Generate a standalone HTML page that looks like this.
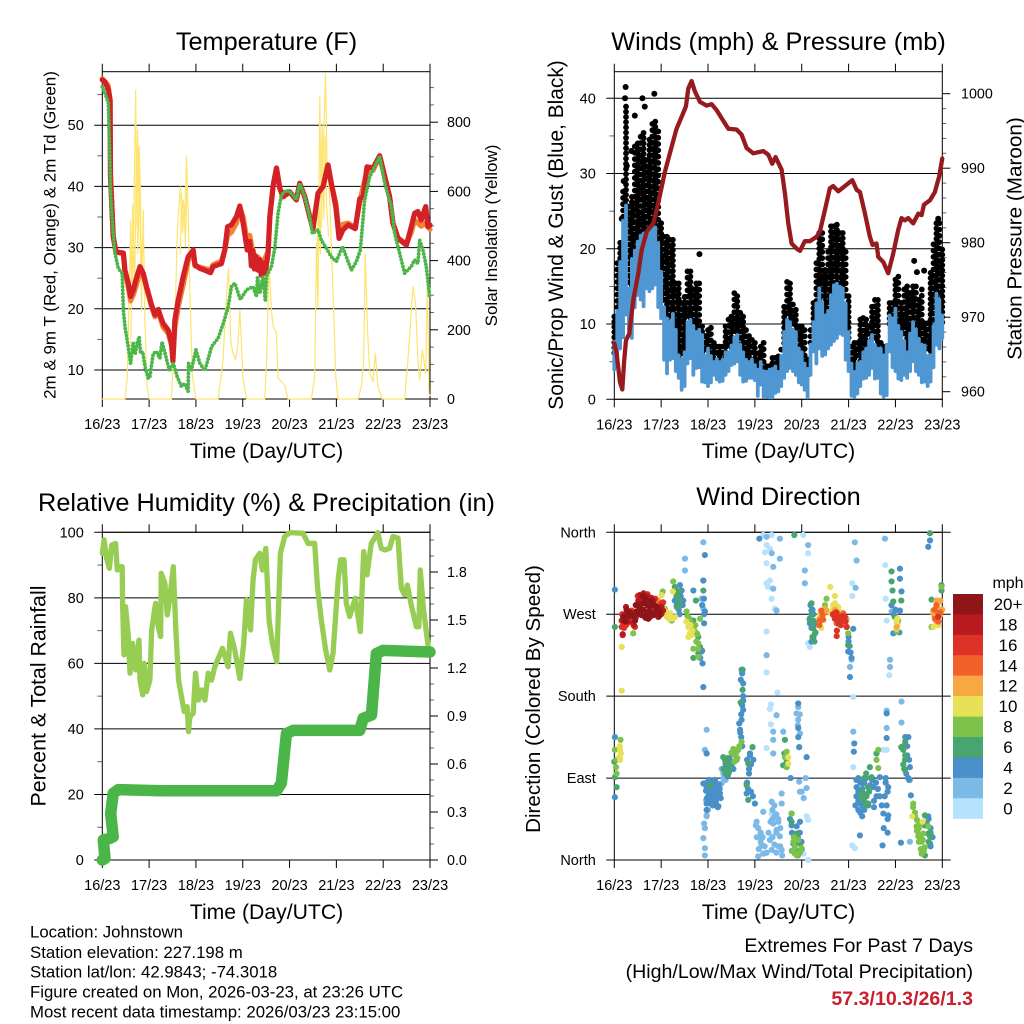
<!DOCTYPE html>
<html lang="en">
<head>
<meta charset="utf-8">
<title>Johnstown station summary</title>
<style>
html,body{margin:0;padding:0;background:#fff}
svg{display:block}
text{font-family:"Liberation Sans",sans-serif;fill:#000}
.title{font-size:25.3px;text-anchor:middle}
.xlabel{font-size:21.2px;text-anchor:middle}
.foot{font-size:16.8px}
</style>
</head>
<body>
<svg id="chart" xmlns="http://www.w3.org/2000/svg" width="1024" height="1024" viewBox="0 0 1024 1024">
<rect width="1024" height="1024" fill="#fff"/>
<text class="title" x="266.5" y="50">Temperature (F)</text>
<text class="title" x="778.5" y="50">Winds (mph) &amp; Pressure (mb)</text>
<text class="title" x="266.5" y="511">Relative Humidity (%) &amp; Precipitation (in)</text>
<text class="title" x="778.5" y="505">Wind Direction</text>
<text class="xlabel" x="266.5" y="458">Time (Day/UTC)</text>
<text class="xlabel" x="778.5" y="458">Time (Day/UTC)</text>
<text class="xlabel" x="266.5" y="919">Time (Day/UTC)</text>
<text class="xlabel" x="778.5" y="919">Time (Day/UTC)</text>
<text transform="translate(55.5,235) rotate(-90)" text-anchor="middle" font-size="17">2m &amp; 9m T (Red, Orange) &amp; 2m Td (Green)</text>
<text transform="translate(497,235.5) rotate(-90)" text-anchor="middle" font-size="17">Solar Insolation (Yellow)</text>
<text transform="translate(563,235) rotate(-90)" text-anchor="middle" font-size="20.9">Sonic/Prop Wind &amp; Gust (Blue, Black)</text>
<text transform="translate(1021.5,238.5) rotate(-90)" text-anchor="middle" font-size="20.7">Station Pressure (Maroon)</text>
<text transform="translate(45.5,696) rotate(-90)" text-anchor="middle" font-size="21.3">Percent &amp; Total Rainfall</text>
<text transform="translate(540,699) rotate(-90)" text-anchor="middle" font-size="20.6">Direction (Colored By Speed)</text>
<text class="foot" x="30" y="937.5">Location: Johnstown</text>
<text class="foot" x="30" y="958">Station elevation: 227.198 m</text>
<text class="foot" x="30" y="977.5">Station lat/lon: 42.9843; -74.3018</text>
<text class="foot" x="30" y="997.5">Figure created on Mon, 2026-03-23, at 23:26 UTC</text>
<text class="foot" x="30" y="1017.5">Most recent data timestamp: 2026/03/23 23:15:00</text>
<text x="973" y="952" text-anchor="end" font-size="19.6">Extremes For Past 7 Days</text>
<text x="973" y="978" text-anchor="end" font-size="19.6">(High/Low/Max Wind/Total Precipitation)</text>
<text x="973" y="1005" text-anchor="end" font-size="19.6" font-weight="bold" style="fill:#c8202d">57.3/10.3/26/1.3</text>
<text x="1008" y="588" text-anchor="middle" font-size="16">mph</text>
</svg>
<script>
// ---------- shared axis data ----------
const dayTickHours = [0, 24, 48, 72, 96, 120, 144, 168];
const dayTickLabels = ['16/23', '17/23', '18/23', '19/23', '20/23', '21/23', '22/23', '23/23'];

// ---------- temperature panel ----------
const tempTicks = [10, 20, 30, 40, 50];
const tempMinorTicks = [15, 25, 35, 45, 55];
const solarTicks = [0, 200, 400, 600, 800];
const solarMinorTicks = [50, 100, 150, 250, 300, 350, 450, 500, 550, 650, 700, 750, 850, 900];

const solarHours = [0, 11.6, 12.8, 13.8, 14.5, 15, 15.9, 17.1, 17.8, 18.1, 18.6, 18.9, 19.6, 20.1, 21, 21.8, 23, 24, 35.5, 37.2, 38.4, 39.4, 40.1, 40.8, 41.5, 42.3, 43.2, 44, 44.9, 46.2, 48, 59.4, 61.9, 63.7, 64.7, 65.4, 65.9, 67.1, 68.3, 69.6, 70.5, 72.2, 74, 83.3, 84.2, 85.5, 86.7, 87.6, 89.3, 90.1, 91.8, 93.5, 95.2, 107.2, 108.9, 109.8, 110.6, 111.5, 112.3, 113.2, 114.4, 115.2, 116.6, 118.3, 119.7, 120.8, 131.1, 132.8, 134, 134.8, 135.9, 137.1, 138.8, 140, 141.3, 143.5, 155, 156.7, 157.9, 159.3, 160.6, 161.8, 162.7, 164.1, 165.8, 166.7, 167.5, 168];
const solarWatts = [0, 0, 64, 305, 517, 266, 420, 893, 497, 777, 594, 729, 594, 257, 546, 228, 36, 0, 0, 209, 479, 565, 613, 537, 575, 527, 700, 546, 305, 64, 0, 0, 113, 305, 378, 257, 161, 132, 113, 161, 257, 55, 0, 0, 113, 382, 257, 209, 190, 60, 50, 40, 0, 0, 64, 450, 266, 873, 497, 690, 941, 690, 575, 305, 64, 0, 0, 36, 113, 420, 209, 74, 50, 132, 36, 0, 0, 113, 209, 325, 276, 113, 55, 142, 74, 344, 16, 10];
const solarDetailHoursA = [14.6, 15.6, 16.6, 17.4, 18.2, 19, 19.8, 20.6];
const solarDetailWattsA = [150, 560, 300, 700, 420, 640, 350, 460];
const solarDetailHoursB = [40, 40.6, 41.2, 41.9, 42.6, 43.4];
const solarDetailWattsB = [420, 590, 480, 560, 440, 620];
const solarDetailHoursC = [110, 110.9, 111.8, 112.7, 113.6, 114.2, 115, 116];
const solarDetailWattsC = [380, 610, 420, 790, 520, 760, 560, 470];

const orangeHours = [0, 3, 4, 4.2, 5, 5.6, 7, 10.8, 11.6, 13.3, 14.5, 15.9, 17.2, 19.3, 21, 22.7, 25.3, 27, 28.7, 31.2, 33.8, 35.5, 36.2, 37.2, 38.9, 41.5, 44, 46.6, 47.5, 50, 55.5, 56.8, 61.1, 62.8, 64.2, 66.2, 68.8, 70.5, 72.2, 74.3, 75.6, 77.3, 79.9, 82.4, 85, 85.9, 87.6, 89.3, 91, 92.7, 96.1, 99.5, 101.2, 103.8, 106.3, 108, 110.6, 113.2, 115.7, 117.4, 119.7, 121.4, 123.4, 126, 129.7, 132, 135.7, 138.8, 142.2, 144.8, 147.3, 149, 151.6, 155.9, 158.4, 160.1, 161.8, 163.5, 165.8, 168];
const orangeTemp = [57.6, 56.5, 54, 42, 36, 31.8, 29.3, 29, 26, 23.6, 21.3, 22.3, 23.6, 26, 25.6, 23.3, 20.3, 18.7, 19.5, 17, 16, 14, 12, 17, 20.3, 24, 27.8, 29.4, 27, 26.8, 26.3, 27.2, 27.8, 29.6, 32, 32.5, 34, 36.6, 35, 31, 32, 29, 28.4, 27.5, 29.4, 35, 40, 43, 39.7, 38.3, 39.1, 37.8, 40.5, 38.3, 35.1, 33.1, 38.9, 40, 43.5, 40.5, 37.3, 32.5, 33.8, 34, 33.3, 37.5, 42.6, 42.6, 45, 41.6, 38.3, 34, 31.6, 30.6, 32.5, 34.5, 34, 33.5, 34, 33];

const redHours = [0, 1.4, 3.1, 4, 4.2, 5, 5.6, 7, 9, 10.8, 11.6, 13.3, 14.5, 15.9, 17.2, 19.3, 21, 22.7, 25.3, 27, 28.7, 29.9, 31.2, 33.8, 35.5, 36.2, 37.2, 38.9, 41.5, 44, 46.6, 47.5, 50, 52.6, 55.5, 56.8, 61.1, 62.8, 64.2, 66.2, 68.8, 70.5, 72.2, 74.3, 75.6, 76.4, 77.3, 78, 78.8, 79.9, 80.7, 81.5, 82.4, 83.5, 85, 85.9, 87.6, 89.3, 91, 92.7, 96.1, 99.5, 101.2, 103.8, 106.3, 108, 110.6, 113.2, 115.7, 117.4, 119.7, 121.4, 123.4, 126, 129.7, 132, 133.7, 135.7, 138.8, 142.2, 144.8, 147.3, 149, 151.6, 155.9, 158.4, 160.1, 161.8, 163.5, 165.8, 166.9, 168];
const redTemp = [57.4, 57.1, 55.8, 54.1, 41.6, 36.1, 31.8, 29.3, 29.2, 29.1, 26.3, 24.2, 22, 23.1, 24.7, 26.9, 25.8, 23.6, 20.6, 19, 19.9, 18.7, 17.6, 16.5, 14.4, 11.4, 18.2, 21.4, 25.3, 28.5, 29.6, 27.2, 26.6, 26.3, 25.9, 26.9, 27.4, 29.6, 33.4, 33.7, 35.1, 36.8, 34, 29.6, 31, 27, 29.5, 26.5, 28.5, 26.3, 28, 25.5, 27.5, 25.8, 29.1, 35.1, 40.2, 43, 39.7, 38.3, 39.1, 37.8, 40.5, 38.3, 35.1, 33.1, 38.9, 40, 43.5, 40.5, 36.7, 31.5, 32.9, 33.7, 33.1, 38, 38.3, 43.2, 43, 45, 41.6, 38.3, 34, 31.5, 30.4, 33.4, 35.6, 35.9, 34.5, 36.7, 33.4, 33.7];

const dewHours = [0, 1.4, 3.1, 3.9, 4.3, 5.3, 6.5, 8.2, 10.2, 10.8, 11.6, 13.3, 14.5, 15.9, 16.9, 17.9, 18.9, 19.6, 20.7, 21.9, 23.6, 24.4, 26.1, 27.8, 29.5, 30.6, 32.6, 34.3, 36.4, 38.4, 40.6, 42.3, 44, 44.2, 45.7, 48, 50, 52.6, 56, 59.4, 62, 64.5, 66.2, 67.9, 70.8, 73.9, 77.3, 79, 79.6, 80.7, 82.4, 83.6, 84.2, 86.7, 88.4, 90.1, 91.8, 94.4, 97, 99.5, 101.2, 103.8, 106.3, 107.7, 110.6, 112.3, 114.9, 117.4, 120, 121.7, 123.1, 125.1, 127.7, 130.2, 132.3, 134.5, 137.1, 142.2, 144.8, 148.2, 149.9, 152.4, 155, 158.4, 160.1, 161.8, 162.7, 164.4, 166.1, 167.8];
const dewTemp = [56.3, 55.2, 53.6, 44.3, 38.9, 33.4, 29.1, 26.6, 25.8, 19.8, 17.1, 13.8, 11.1, 14.4, 12.7, 14.4, 15.4, 12.7, 13, 10.5, 8.6, 8.9, 12.7, 13, 11.9, 14.6, 12.2, 10, 11.1, 8.9, 7.3, 7.8, 6.5, 11.1, 10, 13.3, 11.1, 9.9, 13.8, 15.2, 17.6, 20.3, 23.6, 24.2, 21.5, 23.1, 23.6, 22, 25.3, 22.5, 25.3, 21.2, 25.3, 26.9, 29.9, 35.6, 38.6, 39.4, 38.9, 37.8, 40.5, 38.3, 35.1, 32.3, 32.9, 31.2, 29.9, 28.5, 27.7, 29.1, 30.2, 28.5, 26.3, 27.7, 29.6, 37.8, 41.6, 44.9, 40.5, 36.7, 32.3, 29.1, 25.8, 26.9, 28, 27.4, 31.2, 29.6, 26.9, 22];

// ---------- winds and pressure panel ----------
const windTicks = [0, 10, 20, 30, 40];
const windMinorTicks = [5, 15, 25, 35];
const pressureTicks = [960, 970, 980, 990, 1000];
const pressureMinorTicks = [962, 964, 966, 968, 972, 974, 976, 978, 982, 984, 986, 988, 992, 994, 996, 998];

const windHours = [0, 3, 6, 9, 12, 15, 18, 21, 24, 27, 30, 33, 36, 39, 42, 45, 48, 51, 54, 57, 60, 63, 66, 69, 72, 75, 78, 81, 84, 87, 90, 93, 96, 99, 102, 105, 108, 111, 114, 117, 120, 123, 126, 129, 132, 135, 138, 141, 144, 147, 150, 153, 156, 159, 162, 165, 168];
const gustHigh = [11.4, 21.2, 39.3, 27.3, 34.4, 35.8, 34.9, 37.3, 23.8, 22, 21.6, 15.8, 14, 17.4, 15.8, 10.1, 9.6, 7.9, 7.4, 10.1, 11.4, 14.1, 11.4, 8.8, 7.9, 7.4, 4.8, 5.9, 6.1, 12.7, 15.8, 12.3, 10.1, 5.7, 13.2, 22.5, 17.6, 23.4, 23.6, 22.5, 14.1, 7.9, 11, 11, 12.7, 13.6, 7.4, 13.2, 16.3, 13.2, 15.4, 15.4, 13.6, 10.5, 17.2, 23.8, 20.3];
const gustLow = [6, 12, 22, 15, 18, 20, 20, 21, 13, 8, 8, 4, 5, 8, 7, 6, 5, 4, 4, 5, 6, 7, 5, 4, 3, 3, 2, 3, 3, 7, 9, 8, 5, 3, 9, 13, 10, 13, 15, 14, 8, 3, 4, 6, 8, 6, 5, 10, 11, 8, 5, 9, 7, 6, 5, 13, 10];
const windHigh = [7.9, 18.5, 26, 18.9, 21.2, 22.3, 22.5, 23.1, 17.2, 11, 11.6, 6.1, 6.5, 10.8, 9.2, 8.8, 7, 5.2, 5.2, 6.5, 7.4, 8.8, 6.5, 5.2, 4.8, 5.2, 3.9, 4.3, 3.9, 9.2, 10.5, 9.2, 6.5, 4.3, 10.5, 15, 11.4, 14.1, 15.6, 15, 9.2, 3.9, 5.2, 7, 8.8, 7, 6.1, 11.4, 12.3, 9.2, 6.5, 10.5, 8.3, 7.4, 6.1, 14.3, 11.4];
const windLow = [3.7, 6.5, 11, 7.9, 13.6, 12.1, 14.1, 15, 10.5, 3.2, 5.2, 2.6, 1.5, 5.2, 3.9, 2.1, 1.5, 3, 2.1, 3, 4.3, 4.8, 2.1, 2.6, 2.3, 1.7, 0.1, 0, 0.8, 2.6, 3.9, 3, 1.7, 0, 6.1, 6.5, 5.7, 7, 7.9, 8.3, 3.5, 0.1, 1.5, 2.6, 3.9, 2.6, 0.1, 6.1, 3.5, 2.3, 2.6, 4.8, 3, 2.1, 2.1, 7, 7.9];
const midHours = [1.5, 4.5, 7.5, 10.5, 13.5, 16.5, 19.5, 22.5, 25.5, 28.5, 31.5, 34.5, 37.5, 40.5, 43.5, 46.5, 49.5, 52.5, 55.5, 58.5, 61.5, 64.5, 67.5, 70.5, 73.5, 76.5, 79.5, 82.5, 85.5, 88.5, 91.5, 94.5, 97.5, 100.5, 103.5, 106.5, 109.5, 112.5, 115.5, 118.5, 121.5, 124.5, 127.5, 130.5, 133.5, 136.5, 139.5, 142.5, 145.5, 148.5, 151.5, 154.5, 157.5, 160.5, 163.5, 166.5];
const gustMidHigh = [18.5, 28, 26, 34, 35.3, 32.2, 37, 36, 22, 21.6, 15.8, 13.2, 17.4, 15, 15.8, 8.8, 9.9, 7.4, 7.4, 11, 14.5, 11.9, 9.6, 8.3, 6.5, 7.9, 4.8, 5.9, 7, 16, 13, 10, 9.6, 9.6, 18.5, 22.5, 20, 23.4, 22.5, 20, 7.4, 7.9, 11.2, 10, 13.6, 7.9, 7.4, 13.2, 16.7, 15, 14.5, 15.4, 15, 10.5, 21, 23.8];
const windMidHigh = [12, 24, 15, 20, 22, 21.5, 23, 21, 12.5, 10.5, 9.5, 5.5, 10.5, 10, 9.5, 6, 6, 5.6, 5.5, 6.5, 8.5, 7.5, 5.5, 5.5, 4.2, 4, 4.2, 4.6, 6, 10.8, 9.5, 7, 5, 7.5, 13, 13.2, 12, 15.4, 15.2, 13, 5, 5, 6.5, 8, 7.5, 7, 7.5, 11, 10, 8, 9, 9.5, 7.5, 6, 10, 13.5];
const windMidLow = [5, 8, 9, 12, 13, 14.5, 14.5, 12, 5, 5, 3.5, 1, 4.5, 3, 4, 2, 2, 2.4, 2.2, 3.5, 4.5, 3, 2.2, 2.6, 0.2, 0.1, 0, 0.6, 1.5, 3.5, 3.5, 2, 1, 3, 4.5, 5.5, 6.5, 7.5, 8.5, 5, 0.2, 0.5, 2.5, 3, 2.5, 0.5, 0.3, 4, 2.5, 3, 3.5, 3.5, 2, 1.5, 4, 6.5];
const gustExtraHours = [5.8, 5.5, 14.4, 10.5, 15.6, 20.5, 43.6, 153.6, 155, 158.7, 165.9, 6.4, 8.7, 3.8, 4.8];
const gustExtraMph = [41.5, 40, 40, 37.7, 38.9, 40.6, 19.3, 18.4, 16.9, 17.1, 24, 31, 33, 24, 29];

const pressureHours = [0, 1.2, 2.9, 4.1, 5.1, 6, 7.7, 9.7, 12.3, 14, 16.6, 20, 22.5, 25.9, 29.4, 31.9, 34.5, 36.7, 37.9, 39.6, 41.3, 43.9, 47.3, 49.8, 52.4, 55, 58.4, 62.6, 65.2, 67.8, 71.2, 76.3, 78.9, 80.9, 82.6, 85.7, 87.4, 89.1, 90.8, 93.4, 95.1, 97.6, 100.2, 103.6, 105.3, 107.9, 110.4, 112.1, 114.7, 118.1, 121.9, 124.1, 125.8, 128.4, 130.9, 132.3, 134.3, 135.2, 137.8, 140.3, 142.9, 145.4, 147.1, 148.8, 150.5, 153.1, 155.7, 157.4, 158.6, 161.7, 164.2, 166.4, 168];
const pressureMb = [966.5, 965.1, 961.3, 960.3, 964.3, 966.9, 967.8, 972.3, 975.9, 979, 981.5, 982.6, 985.3, 989.5, 992.9, 995.3, 996.9, 998.3, 1000.7, 1001.7, 1000.3, 998.9, 998.4, 998.6, 997.8, 996.7, 995.3, 995.2, 994.5, 992.7, 992, 992.3, 991.8, 990.6, 991.5, 989.8, 986.6, 982.6, 979.9, 979.2, 978.9, 980.2, 980.2, 980.8, 981.5, 984.4, 987.3, 987.6, 986.9, 987.6, 988.4, 987.1, 986.8, 983.9, 980.8, 979.7, 979.9, 978.1, 977.4, 975.9, 978.6, 981.7, 983.3, 983, 983.3, 982.6, 983.9, 983.7, 985.1, 985.7, 986.8, 988.9, 991.3];

// ---------- humidity and rainfall panel ----------
const humidityTicks = [0, 20, 40, 60, 80, 100];
const humidityMinorTicks = [10, 30, 50, 70, 90];
const rainTicks = [0, 0.3, 0.6, 0.9, 1.2, 1.5, 1.8];
const rainTickLabels = ['0.0', '0.3', '0.6', '0.9', '1.2', '1.5', '1.8'];
const rainMinorTicks = [0.1, 0.2, 0.4, 0.5, 0.7, 0.8, 1.0, 1.1, 1.3, 1.4, 1.6, 1.7, 1.9, 2.0];

const humidityHours = [0, 0.9, 2.2, 3.6, 4.8, 6.8, 7.7, 9, 10.2, 10.4, 11.1, 11.9, 13.3, 14.2, 15.5, 17.1, 18.8, 19.3, 20.7, 21.5, 22.7, 24.4, 25.3, 27.3, 28.7, 29.9, 30.2, 32.1, 33.3, 34.7, 36.4, 37.7, 39.1, 40.6, 42, 43.5, 44.2, 44.9, 46.6, 47.8, 49.3, 50.9, 52.6, 54.3, 56, 57.7, 61.6, 64.5, 65.7, 67.9, 70.5, 72.5, 73.9, 76, 77.3, 78.5, 80.7, 82.1, 83.8, 85.5, 87.2, 89.4, 91.3, 93.5, 96.1, 102.9, 105.5, 108.9, 110.3, 112.3, 114.5, 116.6, 118.3, 120.9, 122.2, 123.9, 125.1, 126.8, 129.7, 131.1, 132.3, 134, 135.7, 137.9, 141.3, 143, 144.8, 147.3, 149, 151.6, 153.3, 155, 156.4, 158.4, 161, 162.3, 163, 164.7, 167.5, 168];
const humidityPercent = [93.6, 97.7, 92.1, 89, 96.1, 96.6, 88.5, 89.5, 89.5, 78.3, 62.6, 77.3, 68.7, 57, 66.1, 58, 67.1, 54.9, 50.4, 60, 51.4, 54.9, 70.2, 78.3, 71.2, 68.2, 87.5, 84.4, 74.8, 80.4, 89.5, 70.2, 54.9, 49.8, 45.3, 46.8, 39.2, 43.7, 44.8, 57, 48.8, 51.9, 48.8, 57, 54.9, 59, 64.6, 59, 69.2, 64.1, 55.4, 66.1, 79.3, 70.2, 85.5, 91.6, 93.6, 88.5, 95.1, 73.2, 66.1, 60.5, 93.6, 98.7, 99.9, 99.7, 96.6, 96.6, 83.4, 73.2, 64.1, 58, 63.1, 85.5, 91.6, 91.6, 78.3, 74.3, 79.9, 74.3, 69.7, 94.1, 87, 96.6, 99.9, 95.1, 94.6, 95.1, 98.7, 98.2, 82.9, 80.9, 83.9, 77.8, 71.2, 71.2, 88.5, 76.3, 63.1, 63.1];
const rainHours = [0, 1.4, 0.5, 3.9, 5.6, 4.3, 5.6, 8.2, 30.4, 89.3, 91.8, 94.4, 97.8, 132, 133.7, 138, 140.5, 143.9, 168];
const rainInches = [0, 0.01, 0.125, 0.135, 0.146, 0.29, 0.417, 0.44, 0.433, 0.433, 0.48, 0.79, 0.81, 0.81, 0.885, 0.906, 1.29, 1.31, 1.3];

// ---------- wind direction panel ----------
const directionTicks = [0, 90, 180, 270, 360];
const directionLabels = ['North', 'East', 'South', 'West', 'North'];
const colorbarLabels = ['20+', '18', '16', '14', '12', '10', '8', '6', '4', '2', '0'];
const colorbarColors = ['#8f1518', '#b81a20', '#dc3326', '#f26128', '#f8a842', '#e8e056', '#7dc24b', '#49a56f', '#4a90c8', '#7cb9e6', '#b6e2fb'];

// observations per speed class: hour, degrees, hour, degrees ...
const dirSpeed0 = [76.3,357, 80.6,357, 78,346, 79.7,342, 77.2,338, 78,326, 78,304, 79.7,307, 78.8,300, 80.6,287, 82.3,276, 78,251, 78,225, 78,206, 83.6,184, 80.2,171, 79.7,166, 78,123, 80.2,149, 96.8,357, 99.3,337, 98.5,48, 99.3,44, 96.8,7, 99.3,0, 99.3,238, 100.2,234, 122.4,179, 121.9,304, 121.9,290, 138.8,324, 139,287, 140.8,203, 139.5,263, 122.4,102, 121.9,16, 123.2,13, 80.6,51, 82.3,51, 139.5,121, 137.8,121];
const dirSpeed2 = [36.2,331, 36.2,318, 45.6,349, 45.6,307, 45.6,276, 44.7,287, 47.3,143, 46.4,121, 46.4,35, 45.6,24, 46.4,13, 46.4,5, 47.3,49, 47.3,48, 57.5,104, 55.8,95, 72.9,42, 73.7,35, 74.6,26, 75.4,16, 73.7,4, 76.3,7, 76.3,53, 80.6,64, 82.3,49, 81.4,40, 83.1,33, 84.8,26, 85.7,11, 80.6,11, 79.7,22, 84,42, 85.7,62, 85.7,73, 94.2,168, 94.2,154, 95.1,139, 93.4,161, 81.4,141, 81.4,132, 86.5,141, 81.4,117, 83.1,159, 78,355, 84.8,353, 80.6,337, 84.8,331, 81.4,322, 81.4,298, 83.1,274, 78,225, 94.7,86, 95.1,75, 98.5,79, 99.3,346, 97.6,318, 97.6,304, 121.5,220, 120.7,212, 124.1,329, 123.2,349, 123.6,299, 122.4,141, 138.6,353, 139.5,164, 139.5,145, 147.1,174, 147.1,151, 141.2,220, 141.2,212, 151.4,88, 142,273, 144.6,273, 151.4,20, 50.7,73, 81,45, 83,30, 75,20, 85,15, 73,25, 74,12, 75,30, 72.5,38, 76,25, 77,15, 78,8, 79,30, 80,42, 81,25, 82,17, 83,8, 84,15, 85,35, 86,5, 82,60, 83,50, 81,55, 84,45, 47,66, 48,55, 46,40, 56,90, 55,84, 57,88, 55,100, 95,160, 94,148, 96,75, 97,68, 98,90];
const dirSpeed4 = [0.3,297, 0.3,135, 0.3,69, 33.6,302, 34.5,296, 31.9,289, 35.3,285, 40.5,296, 45.6,307, 46.4,335, 45.9,287, 46.4,273, 44.7,229, 45.2,216, 45.6,190, 47.3,117, 45.6,84, 47.3,80, 48.1,70, 49.8,77, 51.6,80, 52.4,70, 54.1,73, 50.7,62, 53.3,59, 47.3,62, 47.3,55, 49,78, 50,84, 51,74, 52,85, 53,78, 48,76, 50,66, 51,68, 52,62, 56.7,110, 57.5,99, 59.2,102, 64.4,143, 65.2,154, 66,165, 66,194, 65.7,209, 67.8,84, 69.5,117, 71.2,110, 72,62, 67.8,73, 74.3,353, 94.2,172, 94.2,135, 94.2,145, 94.7,124, 98.5,113, 90.3,90, 90.8,38, 93.4,37, 95.1,42, 95.9,20, 101,274, 100.2,260, 101.9,245, 122.4,254, 119.8,229, 120.7,201, 122.9,128, 122.7,119, 124.1,80, 127.5,84, 126.7,70, 125,55, 125.8,27, 129.2,62, 132.6,80, 134.3,70, 136,91, 139.5,161, 139.5,134, 140.3,80, 137.8,51, 140.3,49, 137.4,16, 146.8,19, 146.3,320, 146.3,309, 147.1,295, 146.3,274, 142.9,249, 150.6,135, 151.4,102, 150.6,90, 151.9,71, 160.8,344, 161.7,351, 160.8,48, 161.7,18, 125,75, 126,62, 127,78, 128.5,72, 131,82, 133,65, 47.5,85, 48.5,88, 49.5,86, 50.5,84, 51.5,88, 52.5,80, 53.5,83, 47,76, 48,82, 49,72, 50,70, 51,80, 52,75, 53,72, 54,78, 54.5,68, 48,66, 49,62, 50.5,60, 52,64, 53,58, 47.5,68, 56,100, 57,95, 58,92, 59,98, 60,103, 58,110, 59,112, 60,108, 57,105, 61,100, 64,150, 64.5,140, 65,135, 65.5,125, 66,180, 66,175, 65,160, 65.5,170, 64.8,198, 65.5,205, 68,110, 69,100, 70,105, 69,95, 68,85, 70,75, 71,70, 68.5,78, 69.5,115, 100,265, 101,255, 102,270, 103,260, 100.5,280, 102,245, 101.5,275, 103,250, 101,240, 120,245, 120.5,235, 121,228, 121.5,222, 120,240, 124,88, 125,90, 124,70, 125,65, 126,85, 127,60, 128,85, 129,90, 130,60, 128,55, 123.5,60, 126,52, 127,48, 132,88, 134,85, 135,78, 136,70, 133,58, 137,60, 139,90, 139,85, 140,75, 138.5,70, 139.5,60, 140,45, 138,35, 140,30, 149,135, 150,125, 150,115, 151,110, 149.5,95, 151,88, 150.5,90, 142,280, 143,270, 144,275, 145,260, 146,250, 31,285, 32,280, 33,275, 34,290, 35,280, 32.5,295, 33.5,270, 45,280, 46,270, 45,230, 44,222, 46,260, 161,45, 162,35, 163,25, 162,15, 91,30, 92,10, 93,20, 94,5, 90,45, 95,30, 96,12];
const dirSpeed6 = [0.3,256, 0,108, 1.2,80, 0.3,91, 32.8,287, 31.9,296, 33.6,282, 45.6,296, 41.8,285, 40.5,222, 43,245, 43.9,234, 38.7,263, 58.4,106, 55.8,113, 57.5,95, 62.6,110, 65.2,209, 65.7,187, 64.7,173, 68.6,106, 67.8,82, 68.6,66, 70.8,124, 49,82, 87.4,132, 87.1,117, 86.5,104, 88.3,108, 90.8,51, 91.7,18, 95.1,18, 93.4,29, 90.8,42, 101,282, 101.9,263, 102.8,249, 100.2,263, 131.8,91, 130.9,102, 129.2,70, 127.5,73, 130.1,62, 134.3,117, 142,317, 142,306, 142.5,296, 142.9,284, 147,285, 143.7,267, 148,121, 148.9,110, 148.9,99, 147,124, 161.7,359, 162.5,286, 167.6,302, 167.6,296, 159.1,49, 160.8,29, 161.7,26, 159.1,5, 92.2,357, 119,256, 119.8,236, 40.5,263, 43,227, 56,100, 57,108, 58,112, 59,100, 60,105, 58.5,95, 31,300, 32,290, 33,295, 32,278, 128,90, 129,95, 130,80, 128,65, 126,70, 127,75, 129,60, 130.5,75, 101,270, 102,255, 101.5,245, 102.5,240, 148,105, 149,115, 148,125, 149,130, 148.5,100, 92,25, 93,10, 94,25, 95,10, 91,10, 159,38, 160,40, 161,20, 162,30];
const dirSpeed8 = [3.2,132, 0.3,121, 1.2,110, 0.9,102, 1.2,95, 9.7,249, 30.2,306, 24.8,295, 25.9,276, 29.4,263, 37,273, 37.9,262, 40.5,256, 42.2,249, 43,238, 43,223, 40.5,232, 43.9,265, 60.9,117, 63.5,121, 65.2,130, 88.3,119, 87.4,113, 88.3,102, 90.8,51, 91.7,20, 92.5,7, 95.9,13, 94.2,22, 135.2,121, 134.3,110, 135.2,101, 108.7,287, 107.9,280, 119.8,249, 144.6,251, 145.4,263, 167.6,300, 163.4,274, 162.5,256, 153.1,62, 154,48, 154.8,37, 155.7,26, 157.4,20, 157.4,7, 158.2,29, 160.8,37, 156.5,40, 60,118, 61,122, 62,115, 63,112, 64,125, 61.5,108, 62.5,118, 37.5,268, 38.5,265, 39.5,260, 41,252, 42,240, 43,232, 41.5,258, 42.5,248, 153,58, 154,52, 155,44, 156,35, 157,28, 158,22, 158.5,10, 157,12, 156,20, 155,32, 159,14, 91.5,10, 92.5,14, 93.5,5, 95,8, 92,25];
const dirSpeed10 = [3.8,234, 3.8,186, 9.7,257, 30,295, 24.2,291, 25.1,276, 28.6,271, 31.2,267, 37.9,256, 38.8,249, 39.6,247, 2.9,121, 2.6,113, 3.3,117, 89.1,113, 89.1,106, 110.6,300, 105.3,260, 112.1,276, 114.7,278, 110.6,271, 165.9,282, 163.4,256, 144.6,263, 144.6,254, 152.6,48, 157.9,42, 29.4,265, 26.9,267, 167.6,274, 27,272, 28,265, 37,262, 38,245, 39,258, 40,252, 2.8,125, 3,110, 105.5,270, 106,255, 112,280, 113,282, 115,274, 116,270, 113,290, 165,275, 166,258, 145,258, 145,265];
const dirSpeed12 = [8.9,262, 22.5,285, 106,273, 108.7,274, 115.6,269, 119,265, 163.4,271, 165.9,276, 165,262, 166.8,269, 144.6,256, 107,270, 108,276, 105,265, 113,275, 164,268, 167,285, 165,285, 168,275];
const dirSpeed14 = [13.5,289, 4.6,260, 24.2,282, 105.3,263, 106.7,269, 112.1,269, 113.9,260, 117.3,271, 165.9,271, 164.2,265, 23.4,282, 106,274, 107,264, 105,258, 114,272, 115,265, 116,268, 165,280, 166,262, 167,272, 164,275];
const dirSpeed16 = [3.8,256, 7.2,261, 10.6,256, 13.1,289, 18.3,288, 24.2,282, 8.9,274, 4.3,247, 113,265, 114.7,260, 116.4,264, 118.1,267, 113.9,246, 119,256, 165.9,267, 4,270, 5,255, 6,258, 12,290, 15,292, 17,292, 21,287, 25,283, 112,270, 113.5,272, 115,267, 116,258, 117,268, 118.5,262, 114,252];
const dirSpeed18 = [3.8,263, 5.5,270, 8,267, 9.7,261, 12.3,285, 14,287, 16.6,284, 18.3,267, 20.8,279, 22.5,267, 24.2,278, 4.3,248, 12.8,274, 20,285, 6,278, 7,262, 9,270, 10,258, 11,266, 13,291, 15,293, 17,290, 19,288, 21,274, 23,272, 24,270, 25,274];
const dirSpeed20 = [6.3,275, 4.6,267, 10.6,263, 11.4,273, 13.1,277, 14.9,282, 16.6,271, 18.3,278, 20,269, 21.7,274, 23.4,273, 14,269, 19.1,285, 17.4,265, 15.7,288, 8,272, 12,281, 13,270, 15,275, 16,286, 17,280, 18,274, 19,270, 20.5,280, 22,278, 23,268, 7,268, 5.5,262, 10,268, 11,280, 14.5,290, 18.8,283, 16,266];
const directionClasses = [dirSpeed0, dirSpeed2, dirSpeed4, dirSpeed6, dirSpeed8, dirSpeed10, dirSpeed12, dirSpeed14, dirSpeed16, dirSpeed18, dirSpeed20];

// ---------- axis functions ----------
const SVGNS = 'http://www.w3.org/2000/svg';
const root = document.getElementById('chart');
function mk(tag, attrs, parent) {
  const el = document.createElementNS(SVGNS, tag);
  for (const k in attrs) el.setAttribute(k, attrs[k]);
  (parent || root).appendChild(el);
  return el;
}
function linear(d0, d1, r0, r1) {
  return function (v) { return r0 + (v - d0) * (r1 - r0) / (d1 - d0); };
}
function polyline(xs, ys, sx, sy) {
  return xs.map(function (h, i) { return sx(h).toFixed(2) + ',' + sy(ys[i]).toFixed(2); }).join(' ');
}
function tickLabel(parent, x, y, anchor, size, str) {
  const t = mk('text', { x: x, y: y, 'text-anchor': anchor, 'font-size': size }, parent);
  t.textContent = str;
  
  
}
function frame(box, sx, name) {
  const g = mk('g', {});
  
  
  const r = mk('rect', { x: box.l, y: box.t, width: box.r - box.l, height: box.b - box.t, fill: 'none', stroke: '#000', 'stroke-width': 1 }, g);
  
  
  dayTickHours.forEach(function (h, i) {
    const x = sx(h);
    const bt = mk('line', { x1: x, x2: x, y1: box.b, y2: box.b + 8, stroke: '#000' }, g);
    
    
    const tt = mk('line', { x1: x, x2: x, y1: box.t - 8, y2: box.t, stroke: '#000' }, g);
    
    
    tickLabel(g, x, box.b + 30, 'middle', 14.5, dayTickLabels[i]);
  });
  return g;
}
function leftAxis(g, box, sy, ticks, labels, minors) {
  ticks.forEach(function (v, i) {
    const y = sy(v);
    const gl = mk('line', { x1: box.l - 8, x2: box.r, y1: y, y2: y, stroke: '#000' }, g);
    
    
    tickLabel(g, box.l - 18.5, y + 5, 'end', 14.5, labels[i]);
  });
  minors.forEach(function (v) {
    const y = sy(v);
    const mt = mk('line', { x1: box.l - 5, x2: box.l, y1: y, y2: y, stroke: '#000', 'stroke-opacity': 0.6 }, g);
    
    
  });
}
function rightAxis(g, box, sy, ticks, labels, minors, gap) {
  ticks.forEach(function (v, i) {
    const y = sy(v);
    const rt = mk('line', { x1: box.r, x2: box.r + 8, y1: y, y2: y, stroke: '#000' }, g);
    
    
    tickLabel(g, box.r + gap, y + 5, 'start', 14.3, labels[i]);
  });
  minors.forEach(function (v) {
    const y = sy(v);
    const rm = mk('line', { x1: box.r, x2: box.r + 4, y1: y, y2: y, stroke: '#000', 'stroke-opacity': 0.6 }, g);
    
    
  });
}
function line(g, xs, ys, sx, sy, color, width, extra) {
  const a = { points: polyline(xs, ys, sx, sy), fill: 'none', stroke: color, 'stroke-width': width, 'stroke-linejoin': 'round', 'stroke-linecap': 'round' };
  for (const k in (extra || {})) a[k] = extra[k];
  return mk('polyline', a, g);
}
function strs(arr) { return arr.map(String); }

// ---------- temperature panel ----------
(function () {
  const box = { l: 102.3, r: 430, t: 71.7, b: 399 };
  const sx = linear(0, 168, box.l, box.r);
  const sy = linear(10, 50, 370, 125.2);
  const ss = linear(0, 800, 399, 122.2);
  const g = frame(box, sx, 'temperature-panel');
  leftAxis(g, box, sy, tempTicks, strs(tempTicks), tempMinorTicks);
  rightAxis(g, box, ss, solarTicks, strs(solarTicks), solarMinorTicks, 17);
  const s1 = line(g, solarHours, solarWatts, sx, ss, '#fde46f', 1.2);
  
  
  const s2 = line(g, solarDetailHoursA, solarDetailWattsA, sx, ss, '#fde46f', 1.2);
  
  
  const s3 = line(g, solarDetailHoursB, solarDetailWattsB, sx, ss, '#fde46f', 1.2);
  
  
  const s4 = line(g, solarDetailHoursC, solarDetailWattsC, sx, ss, '#fde46f', 1.2);
  
  
  const o = line(g, orangeHours, orangeTemp, sx, sy, '#f58232', 5.2);
  
  
  const r = line(g, redHours, redTemp, sx, sy, '#d42027', 5.2);
  
  
  const d = line(g, dewHours, dewTemp, sx, sy, '#4cb649', 3.8, { 'stroke-dasharray': '0 3.5' });
  
  
})();

// ---------- winds panel ----------
(function () {
  const box = { l: 614.3, r: 942.3, t: 71.7, b: 399.3 };
  const sx = linear(0, 168, box.l, box.r);
  const sy = linear(0, 40, 399.3, 98.3);
  const sp = linear(960, 1000, 391.7, 93.7);
  const g = frame(box, sx, 'winds-panel');
  leftAxis(g, box, sy, windTicks, strs(windTicks), windMinorTicks);
  rightAxis(g, box, sp, pressureTicks, strs(pressureTicks), pressureMinorTicks, 18.7);
  windHours.forEach(function (h, i) {
    const c = mk('line', { x1: sx(h), x2: sx(h), y1: sy(gustHigh[i]) + 3, y2: sy(gustLow[i]), stroke: '#000', 'stroke-width': 5.8, 'stroke-linecap': 'round', 'stroke-dasharray': '0 5.2' }, g);
    
    
  });
  midHours.forEach(function (h, i) {
    const c = mk('line', { x1: sx(h), x2: sx(h), y1: sy(gustMidHigh[i]) + 3, y2: sy(windMidHigh[i]), stroke: '#000', 'stroke-width': 5.8, 'stroke-linecap': 'round', 'stroke-dasharray': '0 6.3' }, g);
    
    
  });
  gustExtraHours.forEach(function (h, i) {
    const c = mk('circle', { cx: sx(h), cy: sy(gustExtraMph[i]), r: 3, fill: '#000' }, g);
    
    
  });
  windHours.forEach(function (h, i) {
    const top = sy(windHigh[i]) + 1.9;
    const bottom = Math.max(sy(windLow[i]) - 1.9, top);
    const c = mk('line', { x1: sx(h), x2: sx(h), y1: top, y2: bottom, stroke: '#4f97d3', 'stroke-width': 3.8, 'stroke-linecap': 'round' }, g);
    
    
  });
  midHours.forEach(function (h, i) {
    const top = sy(windMidHigh[i]) + 1.9;
    const bottom = Math.max(sy(windMidLow[i]) - 1.9, top);
    const c = mk('line', { x1: sx(h), x2: sx(h), y1: top, y2: bottom, stroke: '#4f97d3', 'stroke-width': 3.8, 'stroke-linecap': 'round' }, g);
    
    
  });
  const p = line(g, pressureHours, pressureMb, sx, sp, '#971b1e', 4.3);
  
  
})();

// ---------- humidity panel ----------
(function () {
  const box = { l: 102.3, r: 430, t: 532.3, b: 860 };
  const sx = linear(0, 168, box.l, box.r);
  const sy = linear(0, 100, 860, 532.3);
  const sr = linear(0, 1.8, 860, 572);
  const g = frame(box, sx, 'humidity-panel');
  leftAxis(g, box, sy, humidityTicks, strs(humidityTicks), humidityMinorTicks);
  rightAxis(g, box, sr, rainTicks, rainTickLabels, rainMinorTicks, 17);
  const h = line(g, humidityHours, humidityPercent, sx, sy, '#96cd52', 5.3);
  
  
  const r = line(g, rainHours, rainInches, sx, sr, '#4ab548', 11.5);
  
  
})();

// ---------- direction panel ----------
(function () {
  const box = { l: 614.3, r: 942.3, t: 532.3, b: 860 };
  const sx = linear(0, 168, box.l, box.r);
  const sy = linear(0, 360, 860, 532.3);
  const g = frame(box, sx, 'wind-direction-panel');
  const ext = { l: box.l, r: box.r + 8.4, t: box.t, b: box.b };
  leftAxis(g, ext, sy, directionTicks, directionLabels, []);
  directionClasses.forEach(function (obs, c) {
    for (let i = 0; i < obs.length; i += 2) {
      const p = mk('circle', { cx: sx(obs[i]), cy: sy(obs[i + 1]), r: 3.1, fill: colorbarColors[10 - c] }, g);
      
      
    }
  });
  const top = 594, seg = (818.7 - 594) / colorbarLabels.length;
  colorbarLabels.forEach(function (lab, i) {
    const s = mk('rect', { x: 953, y: top + i * seg, width: 30, height: seg + 0.2, fill: colorbarColors[i] });
    
    
    const t = mk('text', { x: 1008, y: top + (i + 0.5) * seg + 5.8, 'text-anchor': 'middle', 'font-size': 17 });
    t.textContent = lab;
    
    
  });
})();
</script>
</body>
</html>
